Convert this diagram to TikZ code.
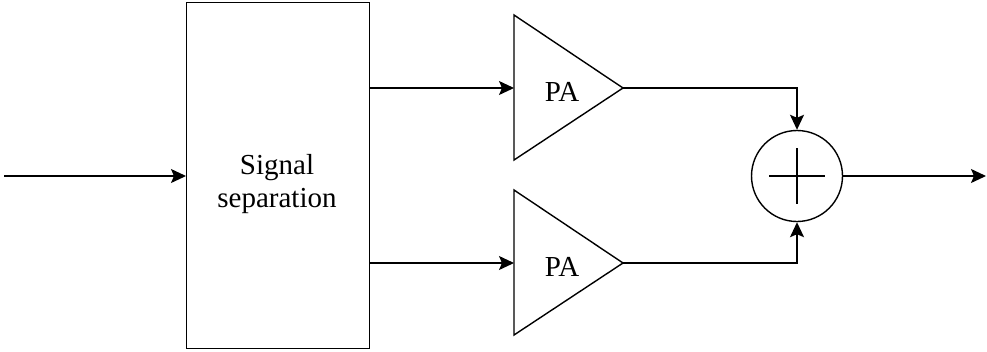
\documentclass[tikz,border=0pt]{standalone}
\usepackage{fontspec}
\setmainfont{Liberation Serif}
\usetikzlibrary{arrows.meta}
\begin{document}
\begin{tikzpicture}[x=1pt,y=-1pt,line width=1.4pt,
  >={Stealth[length=15pt,width=14pt,inset=3pt]},
  txt/.style={font=\fontsize{29}{33}\selectfont,align=center,inner sep=0pt},
  blk/.style={draw,inner sep=0pt}]
\useasboundingbox (0,0) rectangle (987,351);
% signal separation block
\node[blk,minimum width=183pt,minimum height=346pt,anchor=north west] (sep) at (186,2) {};
\node[txt] (septxt) at (277,184) {Signal\\separation};
% amplifiers
\coordinate (pa1in) at (514,88);
\coordinate (pa1out) at (623,88);
\coordinate (pa2in) at (514,263);
\coordinate (pa2out) at (623,263);
\draw (514,15) -- (pa1out) -- (514,160) -- cycle;
\draw (514,190) -- (pa2out) -- (514,335) -- cycle;
\node[txt] (pa1) at (562,92) {PA};
\node[txt] (pa2) at (562,267) {PA};
% summer
\node[blk,circle,minimum size=91pt] (sum) at (797,176) {};
\draw (sum.center) +(-28,0) -- +(28,0);
\draw (sum.center) +(0,-28) -- +(0,28);
% connectors
\coordinate (in) at (4,176);
\coordinate (out) at (986,176);
\draw[->] (in) -- (sep.west |- in);
\draw[->] (sep.east |- pa1in) -- (pa1in);
\draw[->] (sep.east |- pa2in) -- (pa2in);
\draw[->] (pa1out) -| (sum.north);
\draw[->] (pa2out) -| (sum.south);
\draw[->] (sum.east) -- (out);
\end{tikzpicture}
\end{document}
